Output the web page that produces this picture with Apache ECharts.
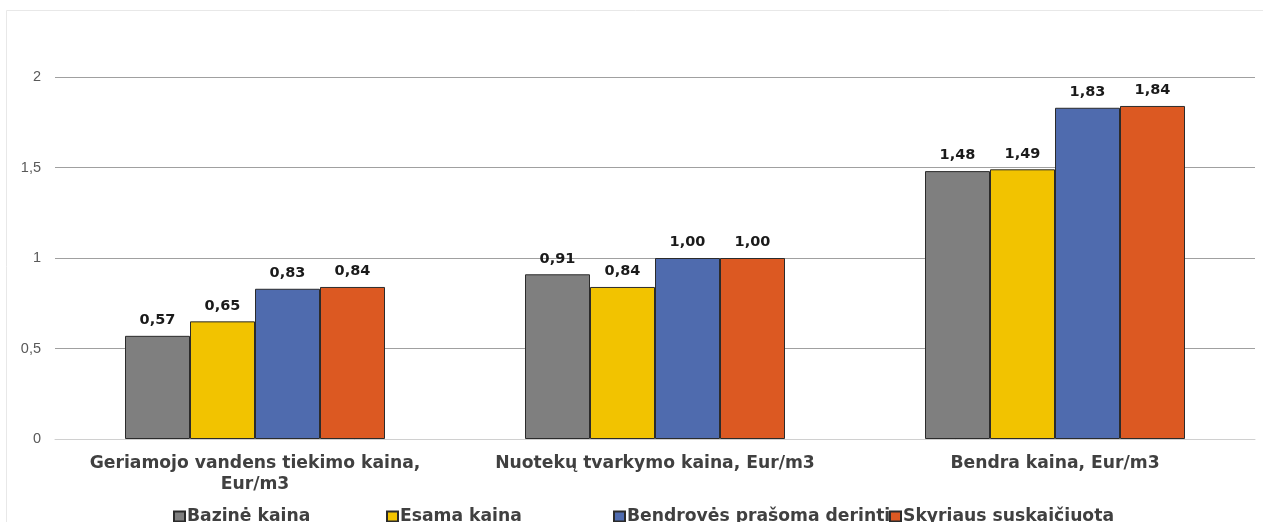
<!DOCTYPE html>
<html>
<head>
<meta charset="utf-8">
<script src="https://cdn.jsdelivr.net/npm/echarts@6/dist/echarts.min.js"></script>
<style>html,body{margin:0;padding:0;background:#fff;}#c{width:1263px;height:522px;}</style>
</head>
<body>
<div id="c"></div>
<script>
var categories = ['Geriamojo vandens tiekimo kaina,\nEur/m3', 'Nuotekų tvarkymo kaina, Eur/m3', 'Bendra kaina, Eur/m3'];
var seriesNames = ['Bazinė kaina', 'Esama kaina', 'Bendrovės prašoma derinti', 'Skyriaus suskaičiuota'];
var bazine = [0.57, 0.91, 1.48];
var esama = [0.65, 0.84, 1.49];
var bendroves = [0.83, 1.00, 1.83];
var skyriaus = [0.84, 1.00, 1.84];
var yTicks = [0, 0.5, 1, 1.5, 2];

var colors = ['#7f7f7f', '#f2c300', '#4f6bae', '#dc5922'];
var values = [bazine, esama, bendroves, skyriaus];
var legendX = [168, 381, 608, 884];

var textFont = {fontFamily: 'DejaVu Sans', fontWeight: 'bold', fontSize: 17.2, color: '#404040'};

var chart = echarts.init(document.getElementById('c'), null, {renderer: 'canvas'});
var series = seriesNames.map(function (n, i) {
  return {
    name: n,
    type: 'bar',
    data: values[i],
    barGap: '0%',
    barCategoryGap: '35%',
    itemStyle: {color: colors[i], borderColor: '#2b2b2b', borderWidth: 1},
    label: {
      show: true, position: 'top', distance: 8,
      fontFamily: 'DejaVu Sans', fontWeight: 'bold', fontSize: 14.5, color: '#1a1a1a',
      formatter: function (p) { return p.value.toFixed(2).replace('.', ','); }
    }
  };
});
var legends = seriesNames.map(function (n, i) {
  return {
    data: [n], left: legendX[i], top: 503, itemWidth: 11, itemHeight: 10,
    icon: 'rect', itemGap: 4,
    textStyle: Object.assign({padding: [0, 0, 0, -3]}, textFont)
  };
});
chart.setOption({
  animation: false,
  backgroundColor: '#fff',
  color: colors,
  grid: {left: 55, right: 8, top: 77, bottom: 83},
  legend: legends,
  xAxis: {
    type: 'category', data: categories,
    axisTick: {show: false},
    axisLine: {lineStyle: {color: '#d0d0d0', width: 1}},
    axisLabel: Object.assign({margin: 14, lineHeight: 21, interval: 0}, textFont)
  },
  yAxis: {
    type: 'value', min: 0, max: 2, interval: 0.5,
    axisLine: {show: false}, axisTick: {show: false},
    splitLine: {lineStyle: {color: '#a0a0a0', width: 1}},
    axisLabel: {fontFamily: 'Liberation Sans', fontSize: 14.5, color: '#595959', margin: 14,
      formatter: function (v) { return String(v).replace('.', ','); }}
  },
  graphic: [{type: 'rect', shape: {x: 6.5, y: 10.5, width: 1262, height: 520}, style: {fill: 'none', stroke: '#e8e8e8', lineWidth: 1}, silent: true}],
  series: series
});
</script>
</body>
</html>
